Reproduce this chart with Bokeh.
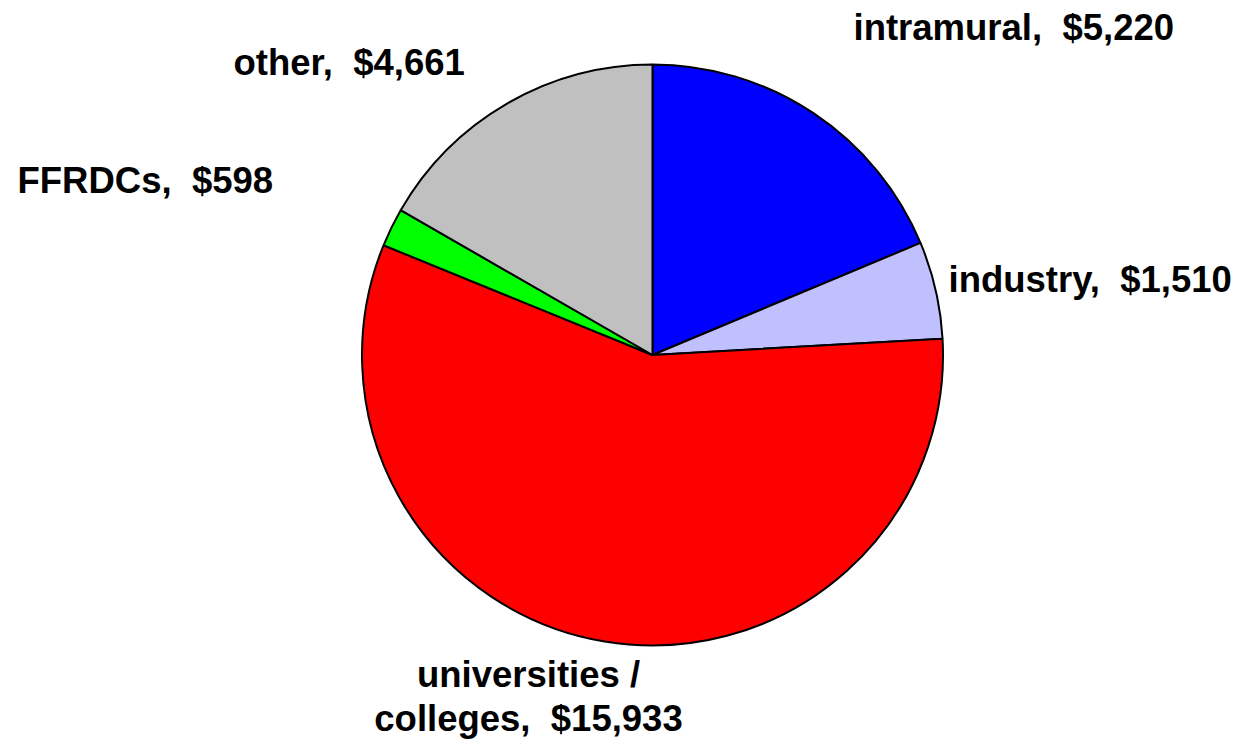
import math
from bokeh.plotting import figure
from bokeh.models import Range1d, ColumnDataSource
from bokeh.core.properties import value
from bokeh.embed import file_html
from bokeh.resources import INLINE

# ---- data ----
categories = ["intramural", "industry", "universities / colleges", "FFRDCs", "other"]
amounts = [5220, 1510, 15933, 598, 4661]
label_texts = ["intramural,\u00a0 $5,220", "industry,\u00a0 $1,510",
               "universities /\ncolleges,\u00a0 $15,933", "FFRDCs,\u00a0 $598",
               "other,\u00a0 $4,661"]
colors = ["#0000FF", "#C0C0FF", "#FF0000", "#00FF00", "#C0C0C0"]

# ---- layout (pixels from the figure's top-left corner) ----
W, H = 1237, 743
cx, cy_px, R = 652, 354.5, 290.5
# label anchors: (x, baseline y, align)
label_pos = [(853, 40, "left"), (948, 292, "left"), (528, 687, "center"),
             (17, 193, "left"), (233, 75, "left")]
LINE_GAP = 44
TEXT_DY = 13  # renderer places alphabetic baseline lower than requested

p = figure(width=W, height=H, output_backend="svg", toolbar_location=None,
           x_range=Range1d(0, W), y_range=Range1d(0, H),
           x_axis_location=None, y_axis_location=None, min_border=0)
p.grid.visible = False
p.outline_line_color = None
p.background_fill_color = "white"
p.border_fill_color = "white"

total = sum(amounts)
starts, ends = [], []
cum = 0.0
for a in amounts:
    starts.append(math.pi / 2 - 2 * math.pi * (cum + a) / total)
    ends.append(math.pi / 2 - 2 * math.pi * cum / total)
    cum += a

src = ColumnDataSource(dict(start=starts, end=ends, color=colors, cat=categories))
p.wedge(x=cx, y=H - cy_px, radius=R, start_angle="start", end_angle="end",
        fill_color="color", line_color="black", line_width=2, source=src)

for txt, (lx, ly, al) in zip(label_texts, label_pos):
    for i, ln in enumerate(txt.split("\n")):
        p.text(x=[lx], y=[H - (ly + i * LINE_GAP - TEXT_DY)], text=[ln],
               text_font=value("Liberation Sans"), text_font_style="bold",
               text_font_size="36.5px", text_align=al, text_baseline="alphabetic",
               text_color="black")

open("out.html", "w").write(file_html(p, INLINE))
